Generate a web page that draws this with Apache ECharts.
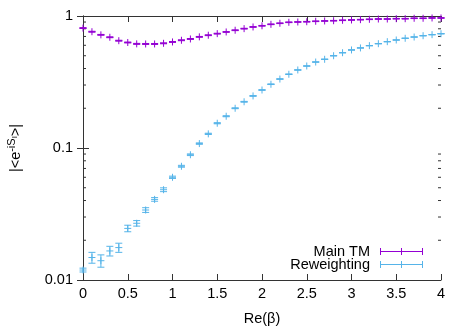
<!DOCTYPE html>
<html><head><meta charset="utf-8">
<script src="https://cdn.jsdelivr.net/npm/echarts@6/dist/echarts.min.js"></script>
<style>html,body{margin:0;padding:0;background:#fff}#c{width:468px;height:327px}</style>
</head><body><div id="c"></div>
<script>
const beta = [0.0,0.1,0.2,0.3,0.4,0.5,0.6,0.7,0.8,0.9,1.0,1.1,1.2,1.3,1.4,1.5,1.6,1.7,1.8,1.9,2.0,
  2.1,2.2,2.3,2.4,2.5,2.6,2.7,2.8,2.9,3.0,3.1,3.2,3.3,3.4,3.5,3.6,3.7,3.8,3.9,4.0];
const mainTM = [0.81,0.76,0.72,0.69,0.65,0.63,0.615,0.614,0.614,0.621,0.636,0.655,0.67,0.695,0.715,0.735,0.757,0.78,0.802,0.826,0.843,
  0.865,0.881,0.896,0.901,0.905,0.912,0.917,0.921,0.928,0.933,0.938,0.944,0.949,0.949,0.954,0.954,0.961,0.961,0.966,0.966];
const mainTMErr = [0.006,0.006,0.005,0.005,0.005,0.005,0.005,0.005,0.005,0.005,0.005,0.005,0.005,0.005,0.005,0.005,0.005,0.005,0.005,0.005,0.005,
  0.005,0.005,0.005,0.005,0.005,0.005,0.005,0.005,0.005,0.005,0.005,0.005,0.005,0.005,0.005,0.005,0.005,0.005,0.005,0.005];
const reweighting = [0.0119,0.0148,0.0140,0.0166,0.0176,0.0246,0.0269,0.0339,0.0408,0.0483,0.060,0.0727,0.0889,0.108,0.128,0.154,0.174,0.200,0.224,0.248,0.275,
  0.304,0.333,0.362,0.390,0.418,0.448,0.470,0.500,0.527,0.553,0.573,0.596,0.617,0.639,0.658,0.678,0.693,0.709,0.722,0.734];
const reweightingErr = [0.0004,0.0014,0.0015,0.0014,0.0014,0.0014,0.0013,0.0014,0.0013,0.0016,0.0012,0.0012,0.0013,0.0013,0.0014,0.0015,0.0015,0.0015,0.0015,0.0015,0.0015,
  0.0015,0.0015,0.0015,0.0015,0.0015,0.0015,0.0015,0.0015,0.0015,0.0015,0.0015,0.0015,0.0015,0.0015,0.0015,0.0015,0.0015,0.0015,0.0015,0.0015];
const xTicks = ['0','0.5','1','1.5','2','2.5','3','3.5','4'];
const yTicks = {1:'1',0.1:'0.1',0.01:'0.01'};
const minorY = [0.02,0.03,0.04,0.05,0.06,0.07,0.08,0.09,0.2,0.3,0.4,0.5,0.6,0.7,0.8,0.9];
const seriesNames = ['Main TM','Reweighting'];
const colors = ['#9400D3','#56B4E9'];

const FONT = 'Liberation Sans, Arial, sans-serif';
const FS = 14.5;
const legendIcon = 'path://M0,3H43V4H0Z M0,0H1V7H0Z M42,0H43V7H42Z M21,0H22V7H21Z';

function errItem(params, api) {
  const x = api.value(0), y = api.value(1), e = api.value(2);
  const c = api.coord([x, y]);
  const hi = api.coord([x, y + e]);
  const lo = api.coord([x, y - e]);
  const col = api.visual('color');
  const st = {stroke: col, lineWidth: 1, fill: null};
  const h = 3.5, cap = 3.5;
  return {type: 'group', children: [
    {type: 'line', shape: {x1: c[0], y1: hi[1], x2: c[0], y2: lo[1]}, style: st},
    {type: 'line', shape: {x1: c[0]-cap, y1: hi[1], x2: c[0]+cap, y2: hi[1]}, style: st},
    {type: 'line', shape: {x1: c[0]-cap, y1: lo[1], x2: c[0]+cap, y2: lo[1]}, style: st},
    {type: 'line', shape: {x1: c[0]-h, y1: c[1], x2: c[0]+h, y2: c[1]}, style: st},
    {type: 'line', shape: {x1: c[0], y1: c[1]-h, x2: c[0], y2: c[1]+h}, style: st}
  ]};
}
function minorItem(params, api) {
  const v = api.value(0);
  const l = api.coord([0, v]);
  const r = api.coord([4, v]);
  const st = {stroke: '#333', lineWidth: 1};
  return {type: 'group', children: [
    {type: 'line', shape: {x1: l[0], y1: l[1], x2: l[0]+3, y2: l[1]}, style: st},
    {type: 'line', shape: {x1: r[0]-3, y1: r[1], x2: r[0], y2: r[1]}, style: st}
  ]};
}

const chart = echarts.init(document.getElementById('c'), null, {renderer: 'canvas'});
const axisLine = {show: true, lineStyle: {color: '#333', width: 1}};
const tick = {show: true, inside: true, length: 6, lineStyle: {color: '#333'}};
chart.setOption({
  animation: false,
  textStyle: {fontFamily: FONT},
  grid: {left: 83, right: 27, top: 16, bottom: 47, containLabel: false, outerBoundsMode: 'none'},
  legend: {
    orient: 'vertical', align: 'right', right: 40, top: 239,
    itemWidth: 43, itemHeight: 7, itemGap: -2,
    textStyle: {fontSize: FS, color: '#000', fontFamily: FONT, lineHeight: 14, padding: [0, 5, 0, 0]},
    data: seriesNames.map(n => ({name: n, icon: legendIcon}))
  },
  xAxis: [{
    type: 'value', min: 0, max: 4, interval: 0.5,
    name: 'Re(β)', nameLocation: 'middle', nameGap: 31,
    nameTextStyle: {fontSize: FS, color: '#000', fontFamily: FONT},
    axisLine, axisTick: tick, splitLine: {show: false},
    axisLabel: {fontSize: FS, color: '#000', margin: 6, fontFamily: FONT,
      formatter: v => xTicks[Math.round(v * 2)]}
  }, {
    type: 'value', position: 'top', min: 0, max: 4, interval: 0.5,
    axisLine, axisTick: tick, axisLabel: {show: false}, splitLine: {show: false}
  }],
  yAxis: [{
    type: 'log', logBase: 10, min: 0.01, max: 1,
    name: '|<e{sup|-iS}{sub|I}>|', nameLocation: 'middle', nameGap: 58,
    nameTextStyle: {fontSize: FS, color: '#000', fontFamily: FONT,
      rich: {sup: {fontSize: 11, fontFamily: FONT, color: '#000', padding: [0, 0, 8, 0]},
             sub: {fontSize: 8, fontFamily: FONT, color: '#000', padding: [0, 0, 2, 0]}}},
    axisLine, axisTick: tick, splitLine: {show: false},
    axisLabel: {fontSize: FS, color: '#000', margin: 10, fontFamily: FONT,
      formatter: v => yTicks[v] !== undefined ? yTicks[v] : ''}
  }, {
    type: 'log', logBase: 10, min: 0.01, max: 1, position: 'right',
    axisLine, axisTick: tick, axisLabel: {show: false}, splitLine: {show: false}
  }],
  series: [
    {type: 'custom', name: 'Minor', renderItem: minorItem, silent: true, clip: false,
     data: minorY.map(v => [v]), encode: {y: 0}},
    {type: 'custom', name: seriesNames[0], renderItem: errItem, clip: false,
     itemStyle: {color: colors[0]},
     data: beta.map((b, i) => [b, mainTM[i], mainTMErr[i]]), encode: {x: 0, y: 1}, z: 3},
    {type: 'custom', name: seriesNames[1], renderItem: errItem, clip: false,
     itemStyle: {color: colors[1]},
     data: beta.map((b, i) => [b, reweighting[i], reweightingErr[i]]), encode: {x: 0, y: 1}, z: 4}
  ]
});
</script></body></html>
